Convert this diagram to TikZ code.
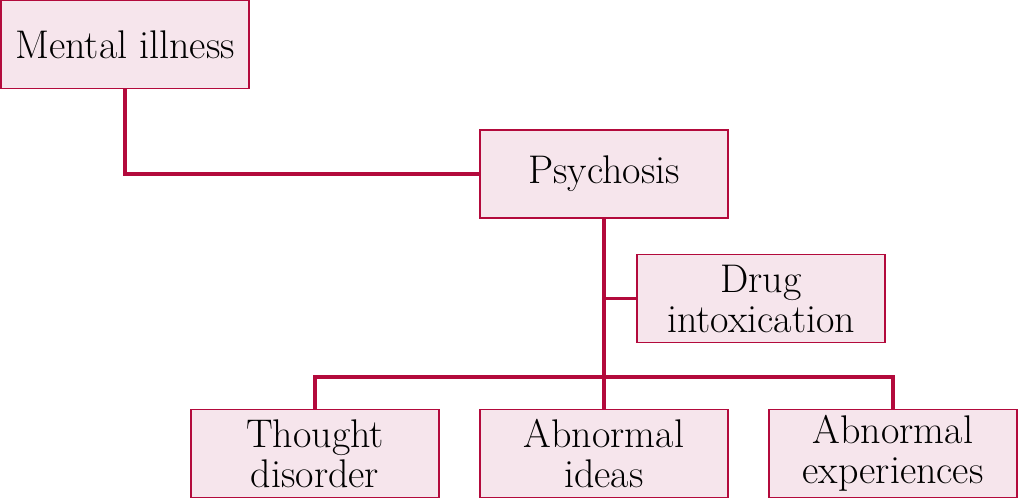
\documentclass[tikz,border=0pt]{standalone}
\usepackage{tikz}
\usetikzlibrary{positioning, calc}
\definecolor{BoxRed}{HTML}{B30A3C}
\definecolor{BoxPink}{HTML}{F6E5EC}
\tikzset{
  conceptbox/.style={rectangle, draw=BoxRed, fill=BoxPink, line width=0.7pt, minimum width=124pt, minimum height=44pt, inner sep=2pt, align=center, font=\fontsize{20}{20}\selectfont},
  link/.style={BoxRed, line width=1.6pt}
}

\begin{document}
\begin{tikzpicture}[x=0.5pt, y=-0.5pt]
  \useasboundingbox (0,0) rectangle (1019,499);
  % boxes
  \node[conceptbox] (mental) at (125,44.5) {Mental illness};
  \node[conceptbox] (psychosis) at (604,174) {Psychosis};
  \node[conceptbox] (drug) at (761,298.5) {Drug\\intoxication};
  \node[conceptbox] (thought) at (315,453.5) {Thought\\disorder};
  \node[conceptbox] (ideas) at (604,453.5) {Abnormal\\ideas};
  \node[conceptbox] (experiences) at (893,453.5) {Abnormal\\experiences};
  \coordinate (bar) at (604,377);
  % connectors
  \draw[link] (mental.south) |- (psychosis.west);
  \draw[link] (psychosis.south) -- (ideas.north);
  \draw[link] (drug.west) -- (psychosis.south |- drug.west);
  \draw[link] (thought.north) |- (bar) -| (experiences.north);
\end{tikzpicture}
\end{document}
